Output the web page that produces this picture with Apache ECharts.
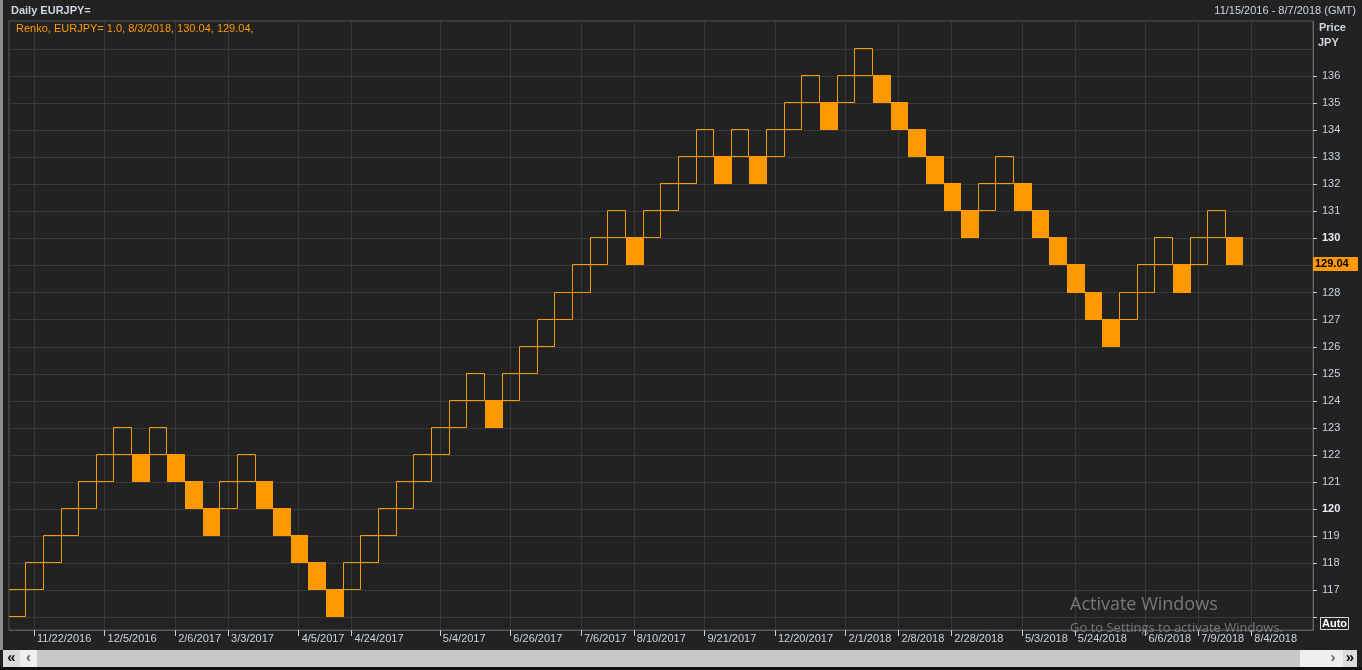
<!DOCTYPE html>
<html><head><meta charset="utf-8">
<script src="https://cdn.jsdelivr.net/npm/echarts@6/dist/echarts.min.js"></script>
<style>html,body{margin:0;padding:0;background:#222222;}#c{width:1362px;height:670px;}</style>
</head><body><div id="c"></div>
<script>
// Renko bricks (box size 1.0), open and close of each brick
const brickOpen = [
  116.04,117.04,118.04,119.04,120.04,121.04,122.04,122.04,122.04,122.04,
  121.04,120.04,120.04,121.04,121.04,120.04,119.04,118.04,117.04,117.04,
  118.04,119.04,120.04,121.04,122.04,123.04,124.04,124.04,124.04,125.04,
  126.04,127.04,128.04,129.04,130.04,130.04,130.04,131.04,132.04,133.04,
  133.04,133.04,133.04,133.04,134.04,135.04,135.04,135.04,136.04,136.04,
  135.04,134.04,133.04,132.04,131.04,131.04,132.04,132.04,131.04,130.04,
  129.04,128.04,127.04,127.04,128.04,129.04,129.04,129.04,130.04,130.04
];
const brickClose = [
  117.04,118.04,119.04,120.04,121.04,122.04,123.04,121.04,123.04,121.04,
  120.04,119.04,121.04,122.04,120.04,119.04,118.04,117.04,116.04,118.04,
  119.04,120.04,121.04,122.04,123.04,124.04,125.04,123.04,125.04,126.04,
  127.04,128.04,129.04,130.04,131.04,129.04,131.04,132.04,133.04,134.04,
  132.04,134.04,132.04,134.04,135.04,136.04,134.04,136.04,137.04,135.04,
  134.04,133.04,132.04,131.04,130.04,132.04,133.04,131.04,130.04,129.04,
  128.04,127.04,126.04,128.04,129.04,130.04,128.04,130.04,131.04,129.04
];
// date labels on the time axis and the brick slot (1-based) they belong to
const dateSlots = [2,6,10,13,17,20,25,29,33,36,40,44,48,51,54,58,61,65,68,71];
const dateLabels = ['11/22/2016','12/5/2016','2/6/2017','3/3/2017','4/5/2017','4/24/2017',
  '5/4/2017','6/26/2017','7/6/2017','8/10/2017','9/21/2017','12/20/2017','2/1/2018',
  '2/8/2018','2/28/2018','5/3/2018','5/24/2018','6/6/2018','7/9/2018','8/4/2018'];
const totalSlots = 74;
const priceTicks = [116,117,118,119,120,121,122,123,124,125,126,127,128,129,130,131,132,133,134,135,136];
const priceLabels = [117,118,119,120,121,122,123,124,125,126,127,128,129,130,131,132,133,134,135,136];
const priceGrid = [116,117,118,119,120,121,122,123,124,125,126,127,128,129,130,131,132,133,134,135,136,137];
const boldPrices = [120,130];
const yMin = 115.54, yMax = 138.03;

const FONT = '"Liberation Sans", Arial, sans-serif';
const ORANGE = '#ff9900';
const LABEL = '#c9d4e2';

const tickPos = dateSlots.map(s => s - 0.5);
const data = brickOpen.map((o, i) => [i, o, brickClose[i]]);

function renderItem(params, api) {
  const i = api.value(0), o = api.value(1), c = api.value(2);
  const p0 = api.coord([i, Math.max(o, c)]);
  const p1 = api.coord([i + 1, Math.min(o, c)]);
  const x0 = Math.round(p0[0]), x1 = Math.round(p1[0]);
  const y0 = Math.round(p0[1]), y1 = Math.round(p1[1]);
  if (c > o) {
    return {type: 'rect', shape: {x: x0 + 0.5, y: y0 + 0.5, width: x1 - x0, height: y1 - y0},
      style: {fill: 'none', stroke: ORANGE, lineWidth: 1}};
  }
  return {type: 'rect', shape: {x: x0 + 1, y: y0, width: x1 - x0, height: y1 - y0 + 1},
    style: {fill: ORANGE}};
}

const chart = echarts.init(document.getElementById('c'));
chart.setOption({
  backgroundColor: '#222222',
  animation: false,
  grid: {left: 9, right: 49, top: 21, bottom: 40, show: true, backgroundColor: '#222222',
    borderColor: '#575757', borderWidth: 1},
  xAxis: {
    type: 'value', min: 0.08, max: totalSlots, position: 'bottom',
    axisLine: {show: true, lineStyle: {color: '#5a5a5a'}},
    axisTick: {show: true, customValues: tickPos, length: 6, lineStyle: {color: LABEL}},
    axisLabel: {customValues: tickPos, align: 'left', verticalAlign: 'top', margin: 3,
      padding: [0, 0, 0, 3], color: LABEL, fontSize: 11, fontFamily: FONT,
      formatter: v => { const k = tickPos.indexOf(v); return k >= 0 ? dateLabels[k] : ''; }},
    splitLine: {show: true, lineStyle: {color: '#383838', width: 1}}
  },
  yAxis: [{
    type: 'value', position: 'right', min: yMin, max: yMax,
    axisLine: {show: true, lineStyle: {color: '#666666'}},
    axisTick: {show: true, customValues: priceTicks, length: 4, lineStyle: {color: LABEL}},
    axisLabel: {customValues: priceLabels, margin: 9, color: LABEL, fontSize: 11, fontFamily: FONT,
      formatter: v => boldPrices.includes(v) ? '{b|' + v + '}' : String(v),
      rich: {b: {fontWeight: 'bold', color: '#e8eef6', fontSize: 11, fontFamily: FONT}}},
    splitLine: {show: false}
  }, {
    type: 'value', position: 'right', min: yMin, max: yMax,
    axisLine: {show: false}, axisTick: {show: false, customValues: priceGrid},
    axisLabel: {show: false},
    splitLine: {show: true, lineStyle: {color: '#383838', width: 1}}
  }],
  series: [{
    type: 'custom', renderItem: renderItem, data: data, clip: true,
    xAxisIndex: 0, yAxisIndex: 0, encode: {x: 0, y: [1, 2]}
  }]
});

const lastClose = brickClose[brickClose.length - 1];
const lastOpen = brickOpen[brickOpen.length - 1];
const yLast = Math.round(chart.convertToPixel({yAxisIndex: 0}, lastClose));

chart.setOption({
  graphic: [
    {type: 'rect', shape: {x: 0, y: 0, width: 3, height: 650}, style: {fill: '#8e8e8e'}},
    {type: 'text', x: 11, y: 11, style: {text: 'Daily EURJPY=', font: 'bold 11px ' + FONT, fill: '#cdd7e4', textVerticalAlign: 'middle'}},
    {type: 'text', x: 1356, y: 11, style: {text: '11/15/2016 - 8/7/2018 (GMT)', font: '11px ' + FONT, fill: LABEL, textAlign: 'right', textVerticalAlign: 'middle'}},
    {type: 'text', x: 16, y: 29, z: 10, style: {text: 'Renko, EURJPY= 1.0, 8/3/2018, ' + lastOpen.toFixed(2) + ', ' + lastClose.toFixed(2) + ',', font: '11px ' + FONT, fill: ORANGE, textVerticalAlign: 'middle'}},
    {type: 'text', x: 1319, y: 28, style: {text: 'Price', font: 'bold 11px ' + FONT, fill: '#cdd7e4', textVerticalAlign: 'middle'}},
    {type: 'text', x: 1318, y: 43, style: {text: 'JPY', font: 'bold 11px ' + FONT, fill: '#cdd7e4', textVerticalAlign: 'middle'}},
    {type: 'rect', z: 10, shape: {x: 1313, y: yLast - 7, width: 45, height: 14}, style: {fill: ORANGE}},
    {type: 'text', z: 11, x: 1315, y: yLast, style: {text: lastClose.toFixed(2), font: 'bold 11px ' + FONT, fill: '#000000', textVerticalAlign: 'middle'}},
    {type: 'rect', z: 10, shape: {x: 1320.5, y: 617.5, width: 28, height: 12}, style: {fill: '#222222', stroke: '#d8d8d8', lineWidth: 1}},
    {type: 'text', z: 11, x: 1334.5, y: 624, style: {text: 'Auto', font: 'bold 11px ' + FONT, fill: '#ffffff', textAlign: 'center', textVerticalAlign: 'middle'}},
    // scrollbar
    {type: 'rect', shape: {x: 3, y: 650, width: 1354, height: 17}, style: {fill: '#c8c8c8'}},
    {type: 'rect', shape: {x: 3, y: 650, width: 17, height: 17}, style: {fill: '#dcdcdc'}},
    {type: 'rect', shape: {x: 20, y: 650, width: 17, height: 17}, style: {fill: '#efefef'}},
    {type: 'rect', shape: {x: 1300, y: 650, width: 43, height: 17}, style: {fill: '#efefef'}},
    {type: 'rect', shape: {x: 1343, y: 650, width: 14, height: 17}, style: {fill: '#dcdcdc'}},
    {type: 'text', x: 11.5, y: 658, style: {text: '\u00ab', font: 'bold 15px ' + FONT, fill: '#111111', textAlign: 'center', textVerticalAlign: 'middle'}},
    {type: 'text', x: 28.5, y: 658, style: {text: '\u2039', font: 'bold 15px ' + FONT, fill: '#666666', textAlign: 'center', textVerticalAlign: 'middle'}},
    {type: 'text', x: 1333, y: 658, style: {text: '\u203a', font: 'bold 15px ' + FONT, fill: '#666666', textAlign: 'center', textVerticalAlign: 'middle'}},
    {type: 'text', x: 1350, y: 658, style: {text: '\u00bb', font: 'bold 15px ' + FONT, fill: '#111111', textAlign: 'center', textVerticalAlign: 'middle'}},
    {type: 'rect', shape: {x: 0, y: 667, width: 1362, height: 3}, style: {fill: '#111111'}},
    // OS watermark
    {type: 'text', z: 20, x: 1070, y: 605, style: {text: 'Activate Windows', font: '18px "Open Sans", ' + FONT, fill: 'rgba(150,150,150,0.75)', textVerticalAlign: 'middle'}},
    {type: 'text', z: 20, x: 1070, y: 628, style: {text: 'Go to Settings to activate Windows.', font: '13px "Open Sans", ' + FONT, fill: 'rgba(150,150,150,0.75)', textVerticalAlign: 'middle'}}
  ]
});
</script></body></html>
